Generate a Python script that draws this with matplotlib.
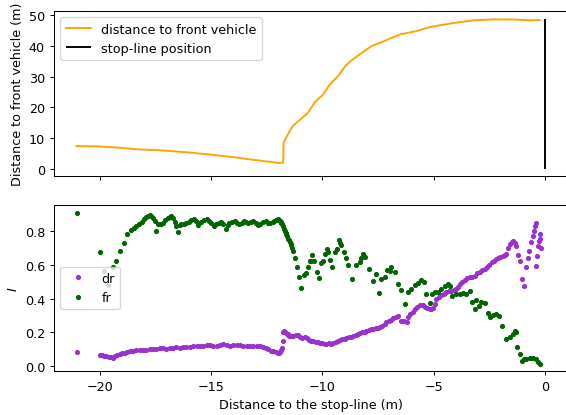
import matplotlib
matplotlib.use("Agg")
import matplotlib.pyplot as plt

# ---- top panel: distance to front vehicle ----
dist_x = [-21.04, -20.0, -19.0, -18.2, -17.4, -16.69, -15.8, -15.0, -14.0, -13.4, -12.81, -12.3, -11.94,
          -11.76, -11.74, -11.6, -11.45, -11.32, -11.0, -10.64, -10.34, -9.97, -9.67, -9.29, -8.99, -8.77,
          -8.32, -7.80, -7.27, -6.52, -5.77, -5.18, -4.13, -3.23, -2.33, -1.44, -0.69, -0.24]
dist_y = [7.4, 7.3, 6.8, 6.3, 6.1, 5.7, 5.2, 4.6, 3.8, 3.2, 2.7, 2.2, 1.9,
          2.0, 8.5, 10.5, 12.5, 14.0, 16.0, 18.3, 21.7, 24.2, 27.4, 30.3, 33.3, 34.9,
          37.3, 40.0, 41.5, 43.8, 44.9, 46.2, 47.5, 48.4, 48.7, 48.7, 48.4, 48.5]
stop_x = 0.0
stop_y = [0.0, 49.0]
top_yticks = [0, 10, 20, 30, 40, 50]

# ---- bottom panel: dr and fr ----
fr_x = [-21.0, -20.0, -19.8, -19.62, -19.4, -19.25, -19.07, -18.92, -18.75, -18.57, -18.45, -18.37, -18.25,
        -18.12, -18.0, -17.9, -17.82, -17.75, -17.68, -17.6, -17.52, -17.45, -17.38, -17.25, -17.15, -17.05,
        -16.93, -16.85, -16.78, -16.7, -16.62, -16.55, -16.48, -16.4, -16.33, -16.2, -16.1, -16.0, -15.88,
        -15.78, -15.66, -15.6, -15.52, -15.43, -15.3, -15.2, -15.1, -14.99, -14.88, -14.77, -14.65, -14.54,
        -14.45, -14.32, -14.25, -14.17, -14.05, -13.94, -13.85, -13.72, -13.62, -13.5, -13.42, -13.35, -13.22,
        -13.12, -13.0, -12.9, -12.78, -12.67, -12.55, -12.45, -12.35, -12.23, -12.15, -12.08, -12.0, -11.95,
        -11.91, -11.87, -11.84, -11.8, -11.76, -11.72, -11.69, -11.65, -11.61, -11.57, -11.54, -11.5, -11.46,
        -11.42, -11.39, -11.35, -11.31, -11.24, -11.14, -11.06, -10.94, -10.84, -10.75, -10.64, -10.57, -10.5,
        -10.46, -10.38, -10.26, -10.16, -10.04, -9.97, -9.89, -9.79, -9.73, -9.67, -9.55, -9.44, -9.34, -9.25,
        -9.2, -9.15, -9.04, -8.95, -8.85, -8.67, -8.47, -8.32, -8.25, -8.17, -8.1, -7.9, -7.72, -7.6, -7.45,
        -7.35, -7.2, -7.1, -6.97, -6.9, -6.75, -6.6, -6.45, -6.3, -6.15, -6.0, -5.85, -5.7, -5.55, -5.45,
        -5.33, -5.15, -5.06, -4.95, -4.81, -4.65, -4.5, -4.36, -4.25, -4.16, -3.98, -3.83, -3.68, -3.53,
        -3.38, -3.26, -3.16, -3.08, -2.96, -2.86, -2.71, -2.56, -2.45, -2.33, -2.18, -2.06, -1.91, -1.73,
        -1.58, -1.44, -1.36, -1.29, -1.26, -1.14, -1.02, -0.93, -0.84, -0.69, -0.54, -0.42, -0.31, -0.21]
fr_y = [0.91, 0.674, 0.565, 0.48, 0.589, 0.625, 0.68, 0.731, 0.78, 0.806, 0.82, 0.832, 0.845,
        0.855, 0.87, 0.881, 0.89, 0.895, 0.89, 0.88, 0.86, 0.80, 0.84, 0.845, 0.85, 0.865,
        0.88, 0.885, 0.89, 0.875, 0.855, 0.83, 0.795, 0.835, 0.84, 0.845, 0.85, 0.855, 0.865,
        0.87, 0.86, 0.835, 0.85, 0.855, 0.865, 0.87, 0.86, 0.848, 0.83, 0.84, 0.85, 0.855,
        0.84, 0.815, 0.835, 0.85, 0.855, 0.86, 0.85, 0.84, 0.85, 0.86, 0.855, 0.848, 0.855,
        0.86, 0.85, 0.835, 0.845, 0.855, 0.86, 0.848, 0.85, 0.855, 0.86, 0.865, 0.871, 0.868,
        0.862, 0.855, 0.848, 0.84, 0.83, 0.815, 0.80, 0.79, 0.78, 0.77, 0.755, 0.745, 0.735,
        0.725, 0.715, 0.70, 0.68, 0.64, 0.59, 0.53, 0.46, 0.54, 0.55, 0.59, 0.62, 0.625,
        0.66, 0.62, 0.56, 0.52, 0.61, 0.62, 0.665, 0.695, 0.675, 0.63, 0.59, 0.675, 0.695, 0.745,
        0.73, 0.72, 0.675, 0.64, 0.60, 0.515, 0.60, 0.615, 0.64, 0.664, 0.645, 0.575, 0.506, 0.545, 0.433,
        0.516, 0.526, 0.57, 0.565, 0.585, 0.56, 0.487, 0.45, 0.369, 0.44, 0.455, 0.48, 0.493, 0.51, 0.50,
        0.427, 0.374, 0.427, 0.44, 0.437, 0.457, 0.472, 0.485, 0.472, 0.417, 0.427, 0.43, 0.435, 0.427,
        0.447, 0.382, 0.339, 0.39, 0.355, 0.38, 0.374, 0.315, 0.29, 0.303, 0.31, 0.295, 0.24, 0.161,
        0.17, 0.19, 0.21, 0.20, 0.112, 0.073, 0.033, 0.04, 0.043, 0.047, 0.047, 0.04, 0.024, 0.014]

dr_x = [-21.0, -20.0, -19.9, -19.8, -19.7, -19.6, -19.5, -19.4, -19.3, -19.2, -19.1, -19.0, -18.87, -18.75,
        -18.65, -18.5, -18.35, -18.2, -18.05, -17.9, -17.75, -17.6, -17.45, -17.3, -17.15, -17.0, -16.85,
        -16.7, -16.55, -16.4, -16.25, -16.1, -15.95, -15.8, -15.65, -15.5, -15.35, -15.2, -15.05, -14.9,
        -14.75, -14.6, -14.45, -14.3, -14.15, -14.0, -13.85, -13.7, -13.55, -13.4, -13.25, -13.1, -12.95,
        -12.8, -12.65, -12.55, -12.42, -12.3, -12.2, -12.1, -12.0, -11.95, -11.9, -11.85, -11.8, -11.77,
        -11.75, -11.72, -11.68, -11.64, -11.6, -11.55, -11.48, -11.4, -11.31, -11.2, -11.1, -11.0, -10.9,
        -10.8, -10.71, -10.6, -10.5, -10.42, -10.3, -10.2, -10.12, -10.0, -9.9, -9.82, -9.7, -9.6, -9.52,
        -9.4, -9.3, -9.22, -9.1, -9.0, -8.92, -8.8, -8.7, -8.62, -8.5, -8.4, -8.32, -8.2, -8.1, -8.02,
        -7.9, -7.8, -7.72, -7.6, -7.5, -7.42, -7.3, -7.2, -7.12, -7.0, -6.9, -6.83, -6.7, -6.6, -6.45,
        -6.35, -6.22, -6.15, -6.07, -5.95, -5.85, -5.75, -5.63, -5.5, -5.4, -5.3, -5.18, -5.1, -5.03,
        -4.95, -4.88, -4.75, -4.65, -4.55, -4.43, -4.3, -4.2, -4.1, -3.98, -3.9, -3.83, -3.72, -3.61,
        -3.5, -3.38, -3.27, -3.16, -3.05, -2.93, -2.82, -2.71, -2.6, -2.5, -2.4, -2.3, -2.2, -2.1, -2.0,
        -1.9, -1.8, -1.73, -1.65, -1.59, -1.5, -1.44, -1.36, -1.29, -1.2, -1.14, -1.02, -0.96, -0.84,
        -0.78, -0.72, -0.61, -0.54, -0.5, -0.46, -0.42, -0.39, -0.36, -0.31, -0.27, -0.24, -0.21, -0.2]
dr_y = [0.083, 0.067, 0.063, 0.06, 0.057, 0.053, 0.052, 0.05, 0.06, 0.068, 0.073, 0.076, 0.079, 0.084,
        0.087, 0.09, 0.093, 0.095, 0.097, 0.098, 0.099, 0.1, 0.103, 0.106, 0.107, 0.104, 0.107,
        0.11, 0.112, 0.11, 0.116, 0.113, 0.116, 0.12, 0.122, 0.118, 0.122, 0.125, 0.126, 0.12,
        0.122, 0.127, 0.13, 0.126, 0.122, 0.125, 0.128, 0.124, 0.122, 0.12, 0.118, 0.12, 0.122,
        0.118, 0.112, 0.105, 0.099, 0.092, 0.087, 0.083, 0.08, 0.079, 0.085, 0.093, 0.11, 0.15,
        0.2, 0.21, 0.2, 0.195, 0.19, 0.19, 0.18, 0.178, 0.181, 0.183, 0.185, 0.172, 0.168,
        0.17, 0.165, 0.155, 0.15, 0.146, 0.142, 0.14, 0.138, 0.136, 0.13, 0.132, 0.135, 0.13, 0.138,
        0.14, 0.148, 0.152, 0.158, 0.16, 0.165, 0.17, 0.173, 0.177, 0.185, 0.192, 0.197, 0.2, 0.205, 0.211,
        0.215, 0.218, 0.22, 0.225, 0.228, 0.23, 0.24, 0.25, 0.26, 0.265, 0.275, 0.284, 0.29, 0.294, 0.27,
        0.268, 0.264, 0.29, 0.307, 0.32, 0.339, 0.35, 0.365, 0.36, 0.353, 0.345, 0.339, 0.34, 0.343,
        0.37, 0.398, 0.41, 0.42, 0.43, 0.438, 0.445, 0.448, 0.45, 0.454, 0.47, 0.485, 0.5, 0.512,
        0.52, 0.526, 0.53, 0.536, 0.55, 0.559, 0.567, 0.575, 0.585, 0.6, 0.615, 0.625, 0.632, 0.64, 0.645,
        0.65, 0.66, 0.664, 0.7, 0.723, 0.735, 0.743, 0.73, 0.714, 0.66, 0.625, 0.516, 0.477, 0.585,
        0.64, 0.684, 0.733, 0.772, 0.8, 0.831, 0.847, 0.595, 0.655, 0.714, 0.74, 0.753, 0.78, 0.70]

xticks = [-20, -15, -10, -5, 0]

DPI = 92
W, H = 566.0, 416.0
fig = plt.figure(figsize=(W / DPI, H / DPI), dpi=DPI)
left = 54 / W
width = 514.4 / W
ax1 = fig.add_axes([left, 1 - 177.3 / H, width, (177.3 - 12) / H])
ax2 = fig.add_axes([left, 1 - 372.3 / H, width, (372.3 - 206) / H], sharex=ax1)

ax1.plot(dist_x, dist_y, color='orange', label='distance to front vehicle')
ax1.vlines(stop_x, stop_y[0], stop_y[1], color='black', label='stop-line position')
ax1.set_ylabel('Distance to front vehicle (m)')
ax1.set_yticks(top_yticks)
ax1.legend(loc='upper left')
ax1.tick_params(labelbottom=False)

ax2.plot(dr_x, dr_y, '.', color='darkorchid', label='dr')
ax2.plot(fr_x, fr_y, '.', color='darkgreen', label='fr')
ax2.set_ylabel('$I$')
ax2.set_xlabel('Distance to the stop-line (m)')
ax2.legend(loc='center left')
ax2.set_xlim(-22.05, 1.05)
ax2.set_xticks(xticks)

fig.savefig('out.png', dpi=DPI)
